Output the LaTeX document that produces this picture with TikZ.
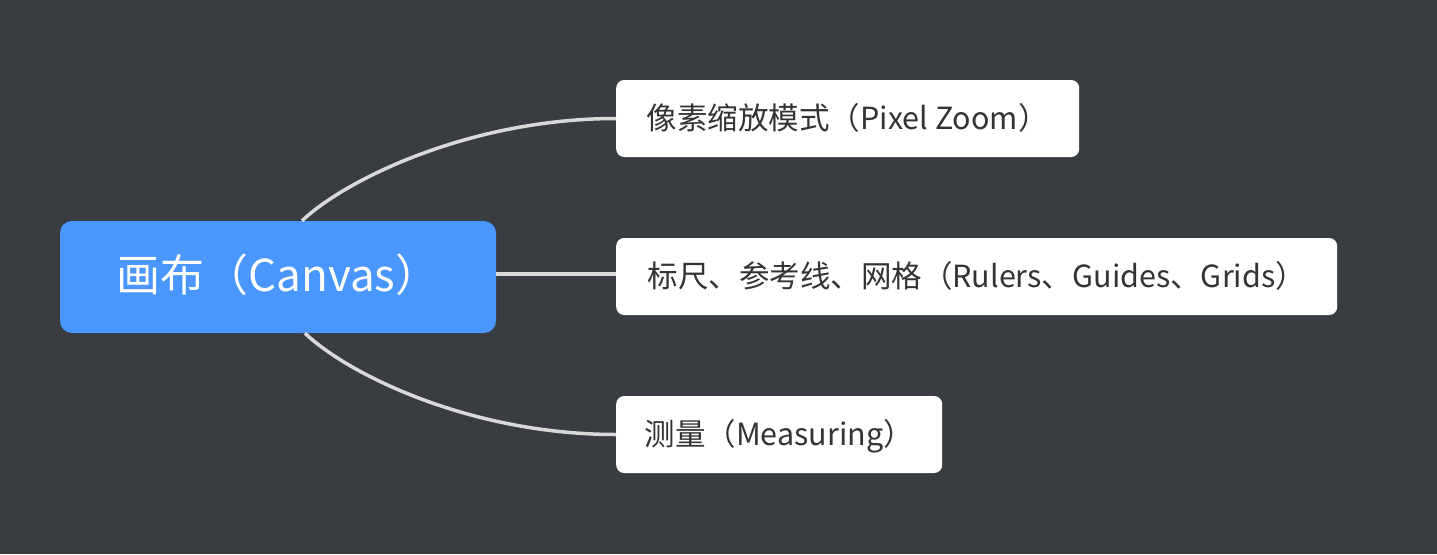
\documentclass[tikz,border=0pt]{standalone}
\usepackage{fontspec}
\setmainfont{Noto Sans CJK SC}
\usetikzlibrary{positioning}
\definecolor{bgcol}{HTML}{393C41}
\definecolor{rootblue}{HTML}{4896FE}
\definecolor{linegray}{HTML}{D9D9D9}
\definecolor{textgray}{HTML}{333333}
\tikzstyle{rootbox} = [fill=rootblue,text=white,rounded corners=12pt,minimum width=436pt,minimum height=112pt,inner sep=0pt,font=\fontsize{44}{50}\selectfont,text height=34pt,text depth=6pt]
\tikzstyle{topicbox} = [fill=white,text=textgray,rounded corners=8pt,minimum height=77pt,inner sep=0pt,anchor=west,font=\fontsize{30.5}{36}\selectfont,text height=26pt,text depth=5pt]
\tikzstyle{branch} = [linegray,line width=3.5pt]

\begin{document}
\begin{tikzpicture}[x=1pt,y=-1pt]

	% define constants
	\def \W {1437}
	\def \H {554}

	% Draw the background
	\fill[bgcol] (0,0) rectangle (\W,\H);
	\useasboundingbox (0,0) rectangle (\W,\H);

	% Draw the topics
	\node[rootbox] (canvas) at (278,277) {画布（Canvas）};
	\node[topicbox,minimum width=463pt] (zoom) at (616,118.5) {像素缩放模式（Pixel Zoom）};
	\node[topicbox,minimum width=721pt] (rulers) at (616,276.5) {标尺、参考线、网格（Rulers、Guides、Grids）};
	\node[topicbox,minimum width=326pt] (measure) at (616,434.5) {测量（Measuring）};

	% Draw the branches
	\draw[branch] ([xshift=24pt]canvas.north) .. controls +(43,-41) and +(-146,0) .. (zoom.west);
	\draw[branch] ([yshift=3pt]canvas.east) -- ([yshift=2.5pt]rulers.west);
	\draw[branch] ([xshift=27pt]canvas.south) .. controls +(43,41) and +(-146,0) .. (measure.west);

\end{tikzpicture}
\end{document}
